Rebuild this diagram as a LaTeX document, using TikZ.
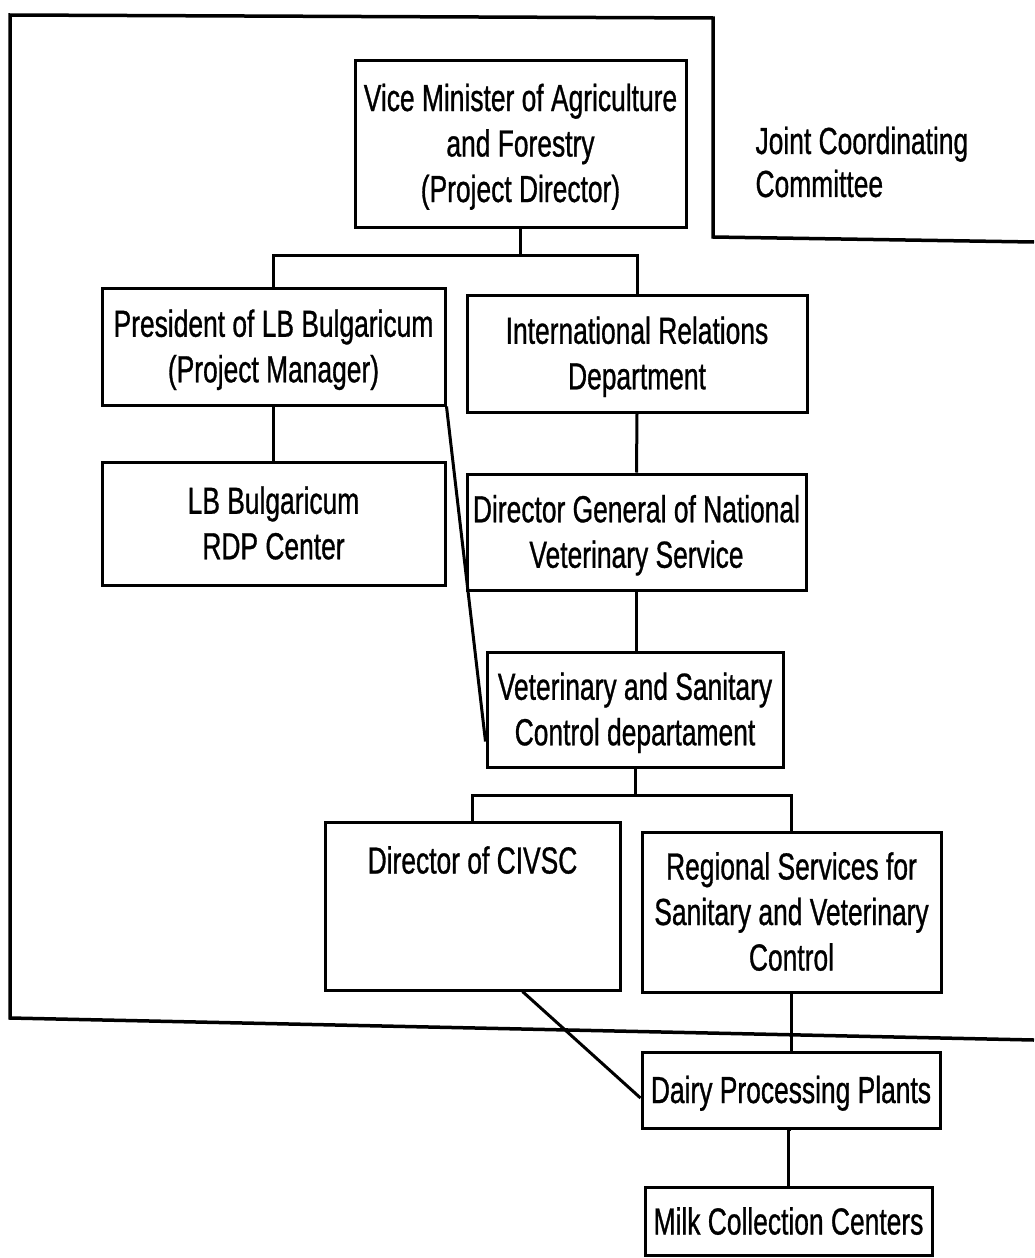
\documentclass[tikz,border=0pt]{standalone}
\usepackage{fontspec}
\setmainfont[FakeStretch=0.70,FakeBold=0.8]{Liberation Sans}
\usetikzlibrary{calc}
\newcommand\lnstrut{\rule[-9.75pt]{0pt}{45.5pt}}
\begin{document}
\begin{tikzpicture}[x=1pt,y=-1pt,
  every node/.style={font=\fontsize{37.7}{45.5}\selectfont},
  box/.style={draw,line width=3pt,align=center,inner sep=0pt},
  conn/.style={line width=3pt},
  frame/.style={line width=3.5pt}]
\useasboundingbox (0,0) rectangle (1034,1258);
\fill[white] (0,0) rectangle (1034,1258);

% nodes
\node[box,minimum width=331,minimum height=167] (vm) at (520.5,143.5) {\lnstrut Vice Minister of Agriculture\\\lnstrut and Forestry\\\lnstrut (Project Director)};
\node[box,minimum width=343,minimum height=117] (pres) at (273.5,346.5) {\lnstrut President of LB Bulgaricum\\\lnstrut (Project Manager)};
\node[box,minimum width=340,minimum height=117] (ird) at (637,353.5) {\lnstrut International Relations\\\lnstrut Department};
\node[box,minimum width=343,minimum height=123] (rdp) at (273.5,523.5) {\lnstrut LB Bulgaricum\\\lnstrut RDP Center};
\node[box,minimum width=339,minimum height=116] (dg) at (636.5,532) {\lnstrut Director General of National\\\lnstrut Veterinary Service};
\node[box,minimum width=296,minimum height=115] (vsc) at (635,709.5) {\lnstrut Veterinary and Sanitary\\\lnstrut Control departament};
\node[box,minimum width=295,minimum height=168] (civsc) at (472.5,906) {\lnstrut Director of CIVSC\\\lnstrut\\\lnstrut};
\node[box,minimum width=299,minimum height=160] (reg) at (791.5,912) {\lnstrut Regional Services for\\\lnstrut Sanitary and Veterinary\\\lnstrut Control};
\node[box,minimum width=298,minimum height=76] (dairy) at (791,1090) {\lnstrut Dairy Processing Plants};
\node[box,minimum width=287,minimum height=68] (milk) at (788.5,1221.5) {\lnstrut Milk Collection Centers};
\node[align=left,anchor=west,font=\fontsize{37.7}{43}\selectfont] (jcc) at (752,162) {Joint Coordinating\\Committee};

% frame of the Joint Coordinating Committee
\coordinate (fa) at (1034,242);
\coordinate (fb) at (713,237);
\coordinate (fc) at (713,18);
\coordinate (fd) at (10,15);
\coordinate (fe) at (10,1018);
\coordinate (ff) at (1034,1040);
\draw[frame,line join=miter] (fa) -- (fb) -- (fc) -- (fd) -- (fe) -- (ff);

% connectors
\coordinate (bus1) at (0,255);
\coordinate (bus2) at (0,795);
\draw[conn] (vm.south) -- (vm.south |- bus1);
\draw[conn] (pres.north) -- (pres.north |- bus1) -- (ird.north |- bus1) -- (ird.north);
\draw[conn] (pres.south) -- (rdp.north);
\draw[conn] (pres.south east) -- ($(vsc.south west)+(0,-27)$);
\draw[conn] (ird.south) -- (dg.north);
\draw[conn] (dg.south) -- (dg.south |- vsc.north);
\draw[conn] (vsc.south) -- (vsc.south |- bus2);
\draw[conn] (civsc.north) -- (civsc.north |- bus2) -- (reg.north |- bus2) -- (reg.north);
\draw[conn] ($(civsc.south)+(50,0)$) -- ($(dairy.west)+(0,8)$);
\draw[conn] (reg.south) -- (reg.south -| dairy.north) -- (dairy.north);
\draw[conn] (dairy.south) -- (dairy.south -| milk.north) -- (milk.north);
\end{tikzpicture}
\end{document}
